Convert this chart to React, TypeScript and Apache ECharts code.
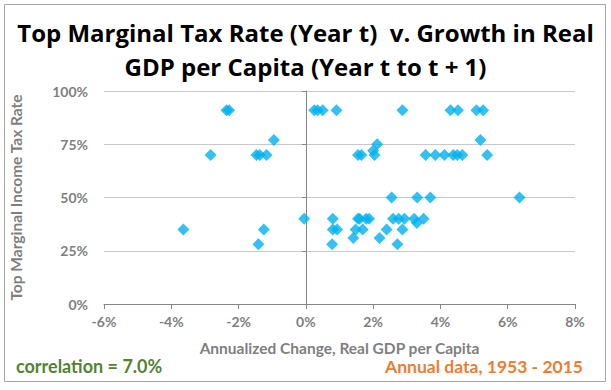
import React, { useEffect, useRef } from "react";
import * as echarts from "echarts";

// Annualized change in real GDP per capita (year t to t+1), %
const growth: number[] = [
  -2.36, -2.28, -2.83, -1.47, -1.37, -1.17, -0.95, -3.64, -1.25, -1.41, -0.05,
  0.25, 0.35, 0.5, 0.91, 2.87, 4.3, 4.52, 5.07, 5.27,
  5.19, 2.12, 2.0,
  1.55, 1.65, 2.04, 3.56, 3.85, 4.12, 4.38, 4.5, 4.65, 5.39,
  2.55, 3.31, 3.7, 6.35,
  0.8, 1.55, 1.6, 1.79, 1.88, 2.59, 2.76, 2.93, 3.22, 3.5,
  3.3,
  0.8, 0.93, 1.48, 1.69, 2.4, 2.87,
  1.41, 2.19,
  0.78, 2.72,
];
// Top marginal income tax rate (year t), %
const taxRate: number[] = [
  91, 91, 70, 70, 70, 70, 77, 35, 35, 28, 40,
  91, 91, 91, 91, 91, 91, 91, 91, 91,
  77, 75, 72,
  70, 70, 70, 70, 70, 70, 70, 70, 70, 70,
  50, 50, 50, 50,
  40, 40, 40, 40, 40, 40, 40, 40, 40, 40,
  38,
  35, 35, 35, 35, 35, 35,
  31, 31,
  28, 28,
];

const titleText = "Top Marginal Tax Rate (Year t)  v. Growth in Real\nGDP per Capita (Year t to t + 1)";
const xAxisName = "Annualized Change, Real GDP per Capita";
const yAxisName = "Top Marginal Income Tax Rate";
const noteLeft = "correlation = 7.0%";
const noteRight = "Annual data, 1953 - 2015";

const FONT = "Lato, 'Open Sans', sans-serif";
const TITLE_FONT = "'Open Sans', Lato, sans-serif";

export default function App() {
  const ref = useRef<HTMLDivElement>(null);
  useEffect(() => {
    document.body.style.margin = "0";
    const chart = echarts.init(ref.current!, undefined, { renderer: "svg" });
    const points = growth.map((g, i) => [g, taxRate[i]]);
    chart.setOption({
      animation: false,
      backgroundColor: "#ffffff",
      textStyle: { fontFamily: FONT },
      title: {
        text: titleText,
        left: "center",
        top: 10,
        textStyle: {
          fontFamily: TITLE_FONT,
          fontSize: 24,
          fontWeight: "bold",
          color: "#000000",
          lineHeight: 34,
        },
      },
      grid: { left: 103, right: 36, top: 91, bottom: 86 },
      xAxis: {
        type: "value",
        min: -6,
        max: 8,
        interval: 2,
        name: xAxisName,
        nameLocation: "middle",
        nameGap: 36,
        nameTextStyle: { fontFamily: FONT, fontSize: 15.5, fontWeight: "bold", color: "#7f7f7f" },
        axisLine: { show: true, onZero: false, lineStyle: { color: "#868686", width: 1 } },
        axisTick: { show: true, length: 5, lineStyle: { color: "#868686" } },
        axisLabel: {
          formatter: "{value}%",
          fontFamily: FONT,
          fontSize: 14,
          fontWeight: "bold",
          color: "#7f7f7f",
          margin: 10,
        },
        splitLine: { show: false },
      },
      yAxis: [
        {
          type: "value",
          min: 0,
          max: 100,
          interval: 25,
          position: "left",
          name: yAxisName,
          nameLocation: "middle",
          nameGap: 80,
          nameRotate: 90,
          nameTextStyle: { fontFamily: FONT, fontSize: 15.5, fontWeight: "bold", color: "#7f7f7f" },
          axisLine: { show: false },
          axisTick: { show: false },
          axisLabel: {
            formatter: "{value}%",
            fontFamily: FONT,
            fontSize: 14,
            fontWeight: "bold",
            color: "#7f7f7f",
            margin: 16,
          },
          splitLine: { show: true, lineStyle: { color: "#c8c8c8", width: 1 } },
        },
        {
          type: "value",
          min: 0,
          max: 100,
          interval: 25,
          position: "left",
          offset: -202,
          axisLine: { show: true, onZero: false, lineStyle: { color: "#868686", width: 1 } },
          axisTick: { show: true, length: 4, lineStyle: { color: "#868686" } },
          axisLabel: { show: false },
          splitLine: { show: false },
        },
      ],
      series: [
        {
          type: "scatter",
          yAxisIndex: 0,
          symbol: "diamond",
          symbolSize: 12,
          itemStyle: { color: "#00B0F0" },
          data: points,
          z: 5,
        },
      ],
      graphic: [
        {
          type: "rect",
          shape: { x: 4.5, y: 4.5, width: 601, height: 377 },
          style: { fill: "none", stroke: "#a6a6a6", lineWidth: 1 },
          silent: true,
        },
        {
          type: "text",
          left: 16,
          top: 357,
          style: {
            text: noteLeft,
            font: `bold 18px ${FONT}`,
            fill: "#548235",
          },
        },
        {
          type: "text",
          right: 28,
          top: 357,
          style: {
            text: noteRight,
            font: `bold 17.5px ${FONT}`,
            fill: "#ED7D31",
          },
        },
      ],
    });
    return () => chart.dispose();
  }, []);
  return (
    <div
      ref={ref}
      style={{ position: "absolute", left: 0, top: 0, width: 611, height: 390 }}
    />
  );
}
